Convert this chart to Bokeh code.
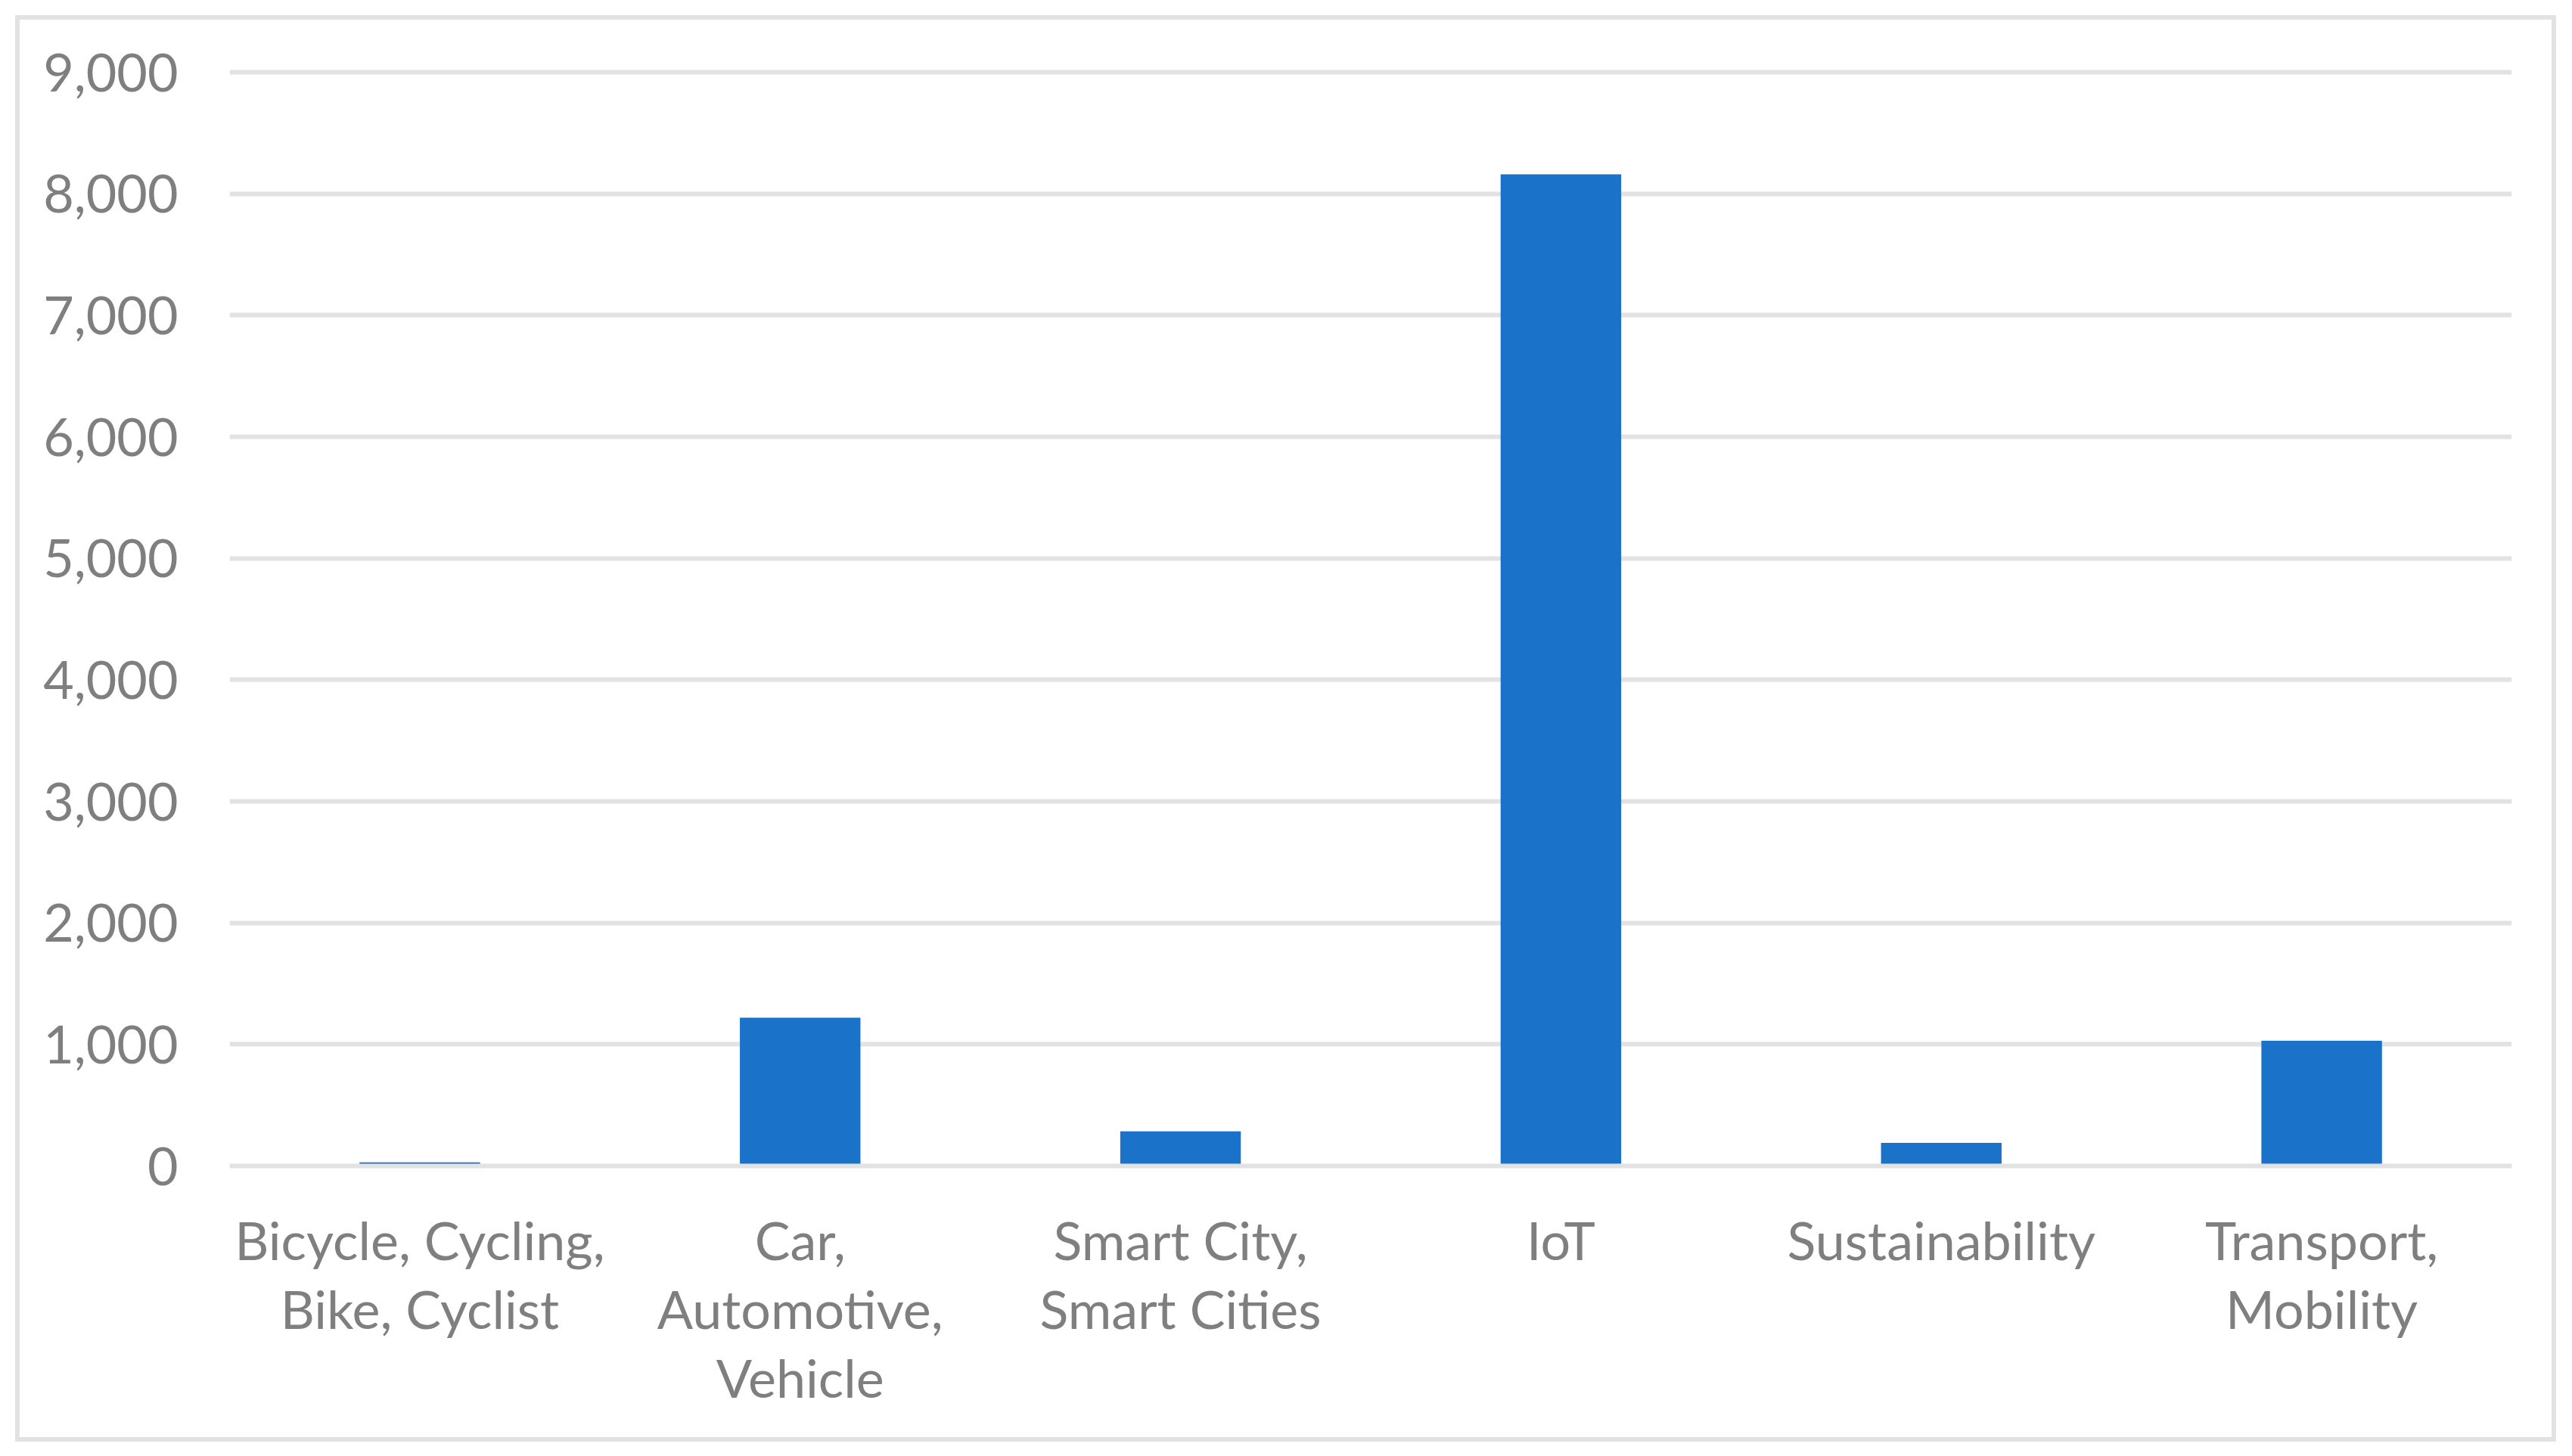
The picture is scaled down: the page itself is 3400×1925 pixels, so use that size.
from bokeh.plotting import figure
from bokeh.models import (ColumnDataSource, Range1d, FixedTicker,
                          NumeralTickFormatter, LinearAxis)
from bokeh.embed import file_html
from bokeh.resources import INLINE

categories = ["Bicycle, Cycling, Bike, Cyclist", "Car, Automotive, Vehicle",
              "Smart City, Smart Cities", "IoT", "Sustainability", "Transport, Mobility"]
category_lines = [["Bicycle, Cycling,", "Bike, Cyclist"], ["Car,", "Automotive,", "Vehicle"],
                  ["Smart City,", "Smart Cities"], ["IoT"], ["Sustainability"], ["Transport,", "Mobility"]]
counts = [30, 1220, 285, 8160, 190, 1030]
y_ticks = [0, 1000, 2000, 3000, 4000, 5000, 6000, 7000, 8000, 9000]

FONT = "Lato"
TEXT_COLOR = "#7f7f7f"
GRID_COLOR = "#e2e2e2"
BAR_COLOR = "#1b73c9"

positions = list(range(len(categories)))
source = ColumnDataSource(data=dict(pos=positions, cat=categories, value=counts))

p = figure(width=3359, height=1886, output_backend="svg", toolbar_location=None,
           x_range=Range1d(-0.5, len(categories) - 0.5),
           y_range=Range1d(0, 9050),
           min_border_left=277, min_border_right=65, min_border_top=61, min_border_bottom=371,
           styles={"margin": "20px", "border": "6px solid #e2e2e2"})

p.vbar(x="pos", top="value", width=0.317, source=source, color=BAR_COLOR, line_color=None)

p.outline_line_color = None
p.background_fill_color = "white"
p.border_fill_color = "white"

p.xgrid.grid_line_color = None
p.ygrid.grid_line_color = GRID_COLOR
p.ygrid.grid_line_width = 6
p.ygrid.ticker = FixedTicker(ticks=y_ticks)

yax = p.yaxis[0]
yax.ticker = FixedTicker(ticks=y_ticks)
yax.formatter = NumeralTickFormatter(format="0,0")
yax.axis_line_color = None
yax.major_tick_line_color = None
yax.minor_tick_line_color = None
yax.major_tick_out = 0
yax.major_tick_in = 0
yax.major_label_standoff = 68
yax.major_label_text_font = FONT
yax.major_label_text_font_size = "70px"
yax.major_label_text_color = TEXT_COLOR


def style_xaxis(ax, line_no, standoff):
    ax.ticker = FixedTicker(ticks=positions)
    ax.major_tick_line_color = None
    ax.minor_tick_line_color = None
    ax.major_tick_out = 0
    ax.major_tick_in = 0
    ax.major_label_standoff = standoff
    ax.major_label_text_font = FONT
    ax.major_label_text_font_size = "70px"
    ax.major_label_text_color = TEXT_COLOR
    ax.major_label_overrides = {pos: (lines[line_no] if line_no < len(lines) else " ")
                                for pos, lines in zip(positions, category_lines)}


# the wrapped category labels: one stacked axis per text line
xax = p.xaxis[0]
xax.axis_line_color = GRID_COLOR
xax.axis_line_width = 6
style_xaxis(xax, 0, 55)

for line_no in (1, 2):
    extra = LinearAxis(axis_line_color=None)
    style_xaxis(extra, line_no, 4)
    p.add_layout(extra, "below")

open("out.html", "w").write(file_html(p, INLINE))
